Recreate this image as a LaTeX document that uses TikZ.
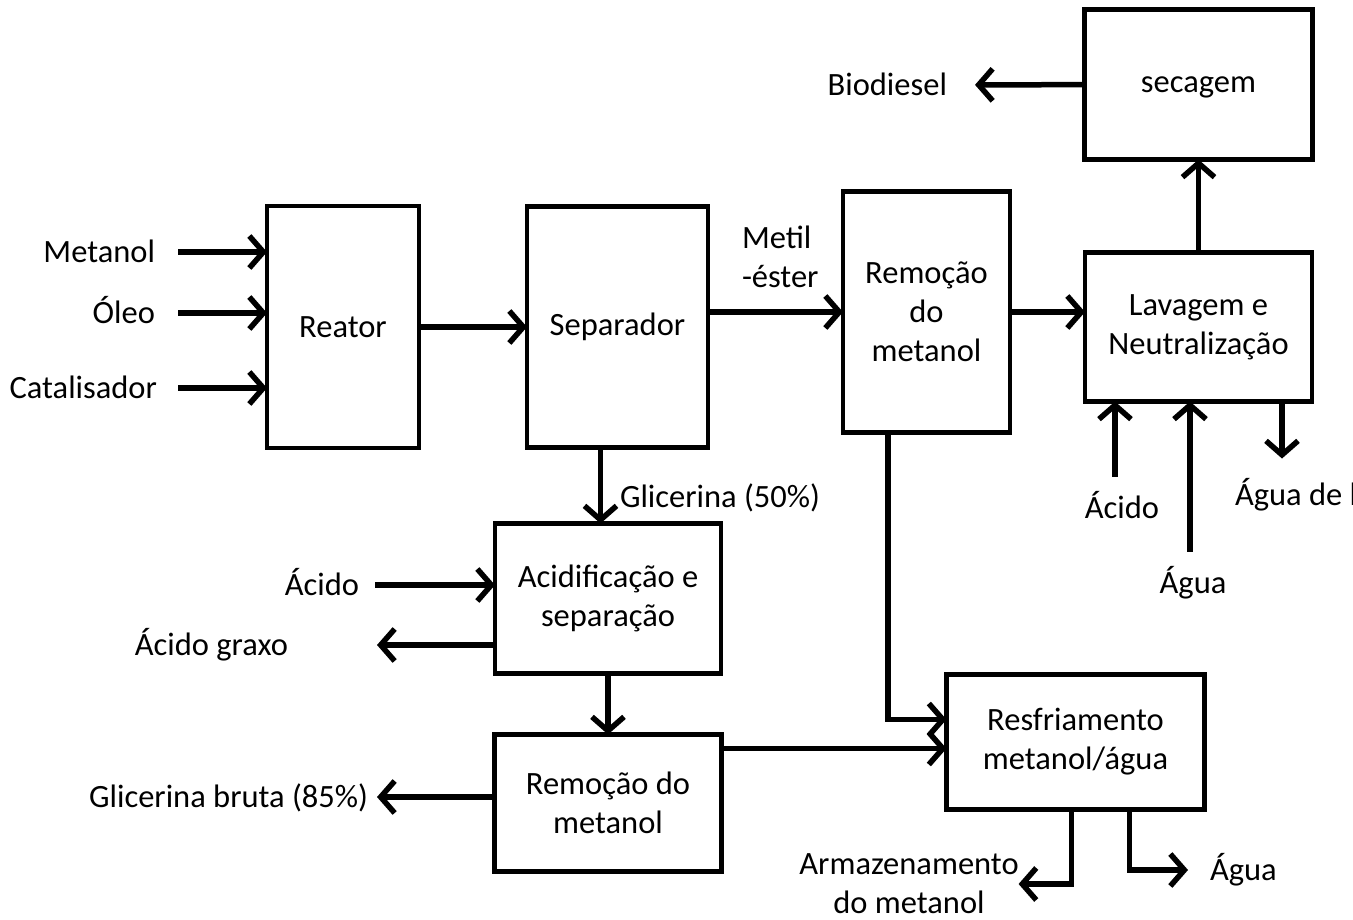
\documentclass[tikz,border=0pt]{standalone}
\usepackage{fontspec}
\setmainfont{Carlito}
\usepackage{tikz}
\usetikzlibrary{positioning,arrows.meta}

\tikzset{
  proc/.style={draw, line width=4.5pt, align=center, inner sep=0pt, outer sep=0pt},
  lbl/.style={inner sep=0pt, outer sep=0pt},
  lblc/.style={lbl, text height=21pt, text depth=0pt},
  flow/.style={line width=5.5pt, -{Straight Barb[length=14pt,width=32pt]}}
}

\begin{document}
\begin{tikzpicture}[x=1pt,y=-1pt,font=\fontsize{32.5}{39}\selectfont]

  \useasboundingbox (0,0) rectangle (1353,920);

  % Nodes

  \node[proc,minimum width=152pt,minimum height=242pt] (reator) at (343,327) {Reator};
  \node[proc,minimum width=181pt,minimum height=241pt,right=108pt of reator] (separador) {Separador};
  \node[proc,minimum width=167pt,minimum height=241pt,right=135pt of separador,yshift=15pt] (remocao1) {Remoção\\do\\metanol};
  \node[proc,minimum width=227pt,minimum height=149pt,right=75pt of remocao1,yshift=-15pt] (lavagem) {Lavagem e\\Neutralização};
  \node[proc,minimum width=228pt,minimum height=150pt,above=93pt of lavagem,text depth=0pt] (secagem) {secagem};

  \node[proc,minimum width=226pt,minimum height=150pt,below=76pt of separador,xshift=-9.5pt] (acidif) {Acidificação e\\separação};
  \node[proc,minimum width=227pt,minimum height=137pt,below=61pt of acidif] (remocao2) {Remoção do\\metanol};
  \node[proc,minimum width=258pt,minimum height=135pt,right=225pt of remocao2,yshift=61pt] (resfri) {Resfriamento\\metanol/água};

  % Labels

  \node[lblc,anchor=east,outer xsep=23pt] (metanol) at (178,252) {Metanol};
  \node[lblc,anchor=east,outer xsep=23pt] (oleo) at (178,313) {Óleo};
  \node[lblc,anchor=east,outer xsep=21pt] (catal) at (178,388) {Catalisador};

  \node[lbl,align=left,anchor=west] (metil) at (742,257) {Metil\\-éster};
  \node[lblc,anchor=east,outer xsep=28pt] (biodiesel) at (975,85) {Biodiesel};

  \node[lblc,outer ysep=21pt] (acido_l) at (1122,508) {Ácido};
  \node[lblc,outer ysep=21pt] (agua_l) at (1193,583) {Água};
  \node[lblc,anchor=west,outer ysep=26pt] (agua_lav) at (1235,495) {Água de lavagem};

  \node[lblc,anchor=west] (glic50) at (620,497) {Glicerina (50\%)};
  \node[lblc,anchor=east,outer xsep=16pt] (acido_a) at (375,585) {Ácido};
  \node[lblc,anchor=east,outer xsep=89pt] (graxo) at (377,645) {Ácido graxo};
  \node[lblc,anchor=east,outer xsep=9pt] (glic85) at (377,797) {Glicerina bruta (85\%)};

  \node[lbl,align=center] (armaz) at (909,884) {Armazenamento\\do metanol};
  \node[lblc,anchor=west,outer xsep=22pt] (agua_r) at (1188,870) {Água};

  % Edges

  \draw[flow] (metanol) -- (metanol -| reator.west);
  \draw[flow] (oleo) -- (oleo -| reator.west);
  \draw[flow] (catal) -- (catal -| reator.west);
  \draw[flow] (reator) -- (separador);
  \draw[flow] (separador.east |- remocao1) -- (remocao1);
  \draw[flow] (remocao1) -- (remocao1 -| lavagem.west);
  \draw[flow] (lavagem) -- (secagem);
  \draw[flow] (secagem) -- (biodiesel);

  \draw[flow] ([xshift=-83.5pt]lavagem.south |- acido_l.north) -- ([xshift=-83.5pt]lavagem.south);
  \draw[flow] ([xshift=-8.5pt]lavagem.south |- agua_l.north) -- ([xshift=-8.5pt]lavagem.south);
  \draw[flow] ([xshift=83.5pt]lavagem.south) -- ([xshift=83.5pt]lavagem.south |- agua_lav.north);

  \draw[flow] ([xshift=-17pt]separador.south) -- ([xshift=-17pt]separador.south |- acidif.north);
  \draw[flow] (acido_a) -- (acido_a -| acidif.west);
  \draw[flow] (graxo -| acidif.west) -- (graxo);
  \draw[flow] (acidif) -- (remocao2);
  \draw[flow] (glic85 -| remocao2.west) -- (glic85);

  \draw[flow] ([yshift=54.5pt]remocao2.east) -- ([yshift=54.5pt]remocao2.east -| resfri.west);
  \draw[flow] ([xshift=-38.5pt]remocao1.south) |- ([yshift=22.5pt]resfri.west);
  \draw[flow] ([xshift=-4pt]resfri.south) |- (armaz);
  \draw[flow] ([xshift=54pt]resfri.south) |- (agua_r);

\end{tikzpicture}
\end{document}
